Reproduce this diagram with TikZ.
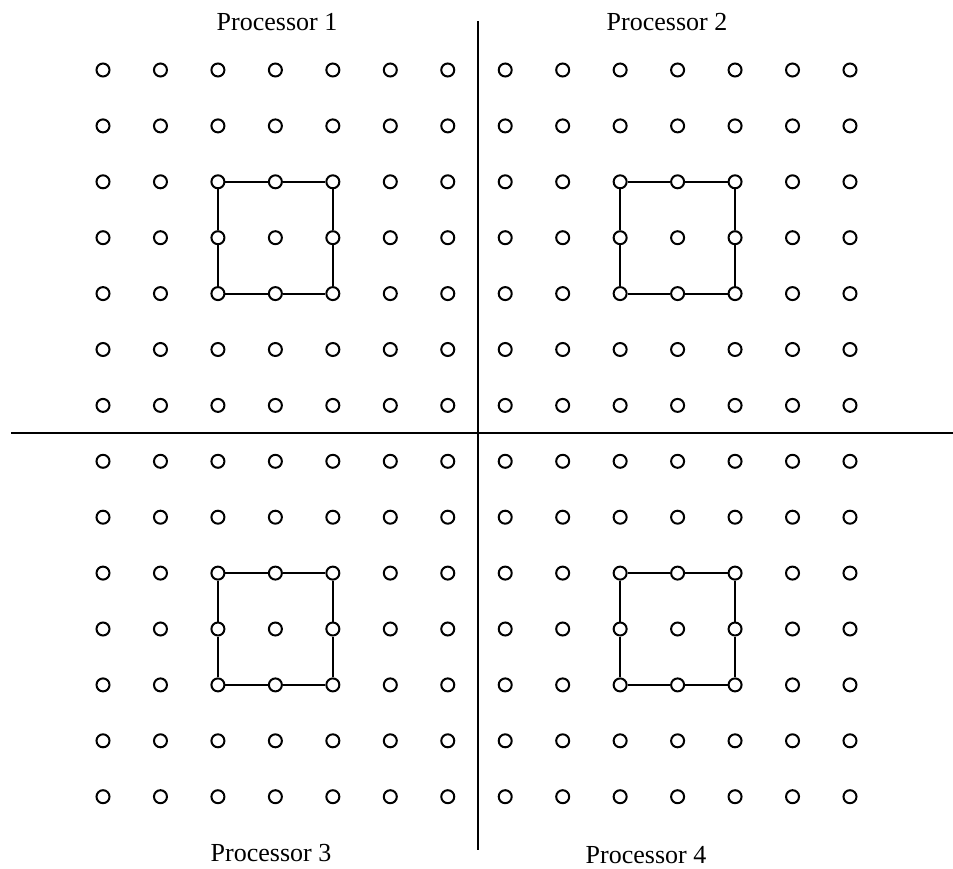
\documentclass[tikz,border=0pt]{standalone}
\usepackage{fontspec}
\setmainfont{Liberation Serif}
\begin{document}
\begin{tikzpicture}[x=1pt,y=-1pt,
  pt/.style={circle,draw,line width=2pt,minimum size=13pt,inner sep=0pt},
  divider/.style={line width=2pt},
  link/.style={line width=2pt},
  lbl/.style={font=\fontsize{26}{30}\selectfont,anchor=base}]
\useasboundingbox (0,0) rectangle (953,869);
% grid of points
\foreach \i in {0,...,13}
  \foreach \j in {0,...,13}
    \node[pt] (n-\i-\j) at ({103+57.46*\j},{70+55.9*\i}) {};
% squares
\foreach \r/\c in {2/2,2/9,9/2,9/9}{
  \pgfmathtruncatemacro\ra{\r+1}
  \pgfmathtruncatemacro\rb{\r+2}
  \pgfmathtruncatemacro\ca{\c+1}
  \pgfmathtruncatemacro\cb{\c+2}
  \draw[link] (n-\r-\c)--(n-\r-\ca)--(n-\r-\cb)--(n-\ra-\cb)--(n-\rb-\cb)
     --(n-\rb-\ca)--(n-\rb-\c)--(n-\ra-\c)--(n-\r-\c);
}
% dividers
\coordinate (vt) at (478,21);
\coordinate (vb) at (478,850);
\coordinate (hl) at (11,432.5);
\coordinate (hr) at (953,432.5);
\draw[divider] (vt) -- (vb);
\draw[divider] (hl) -- (hr);
% labels
\node[lbl] (p1) at (277,31) {Processor 1};
\node[lbl] (p2) at (667,31) {Processor 2};
\node[lbl] (p3) at (271,861) {Processor 3};
\node[lbl] (p4) at (646,863) {Processor 4};
\end{tikzpicture}
\end{document}
